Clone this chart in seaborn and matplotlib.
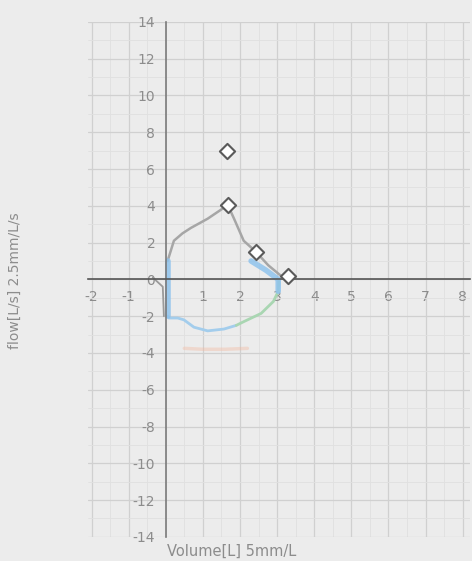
import numpy as np
import pandas as pd
import matplotlib
matplotlib.use("Agg")
import matplotlib.pyplot as plt
from matplotlib.ticker import MultipleLocator
import seaborn as sns

exp_vol = [0.05, 0.22, 0.45, 0.68, 1.13, 1.57, 1.67, 1.84, 2.1, 2.43, 2.76, 3.1, 3.3]
exp_flow = [1.0, 2.1, 2.5, 2.8, 3.3, 3.9, 4.05, 3.3, 2.1, 1.5, 0.77, 0.2, 0.1]

insp_blue_vol = [0.05, 0.08, 0.32, 0.49, 0.76, 1.13, 1.57, 1.9]
insp_blue_flow = [-2.0, -2.1, -2.1, -2.2, -2.6, -2.8, -2.7, -2.5]
insp_green_vol = [1.9, 2.1, 2.57, 2.9, 3.03, 3.05]
insp_green_flow = [-2.5, -2.3, -1.85, -1.2, -0.65, -0.1]

start_blue_vol = [0.05, 0.05]
start_blue_flow = [1.0, -2.0]
end_blue_vol = [2.3, 2.7, 3.03, 3.03]
end_blue_flow = [1.0, 0.5, 0.0, -0.65]
start_gray_vol = [-0.35, -0.08, -0.05]
start_gray_flow = [0.1, -0.4, -2.0]

pred_vol = [0.5, 1.0, 1.6, 2.2]
pred_flow = [-3.75, -3.8, -3.8, -3.75]

# Sollwert-Marker
soll_vol = [1.65, 1.67, 2.43, 3.3]
soll_flow = [7.0, 4.05, 1.5, 0.2]

x_ticks = [-2, -1, 1, 2, 3, 4, 5, 6, 7, 8]
y_ticks = list(range(-14, 15, 2))

bg = "#ececec"
txt = "#8c8c8c"

sns.set_theme(style="white")
plt.rcParams["font.family"] = ["DejaVu Sans"]

fig = plt.figure(figsize=(4.72, 5.61), dpi=100, facecolor=bg)
ax = fig.add_axes([0.186, 0.043, 0.81, 0.918])
ax.set_facecolor(bg)

def kurve(v, f, farbe, lw, alpha=1.0):
    d = pd.DataFrame({"v": v, "f": f})
    sns.lineplot(data=d, x="v", y="f", sort=False, estimator=None, color=farbe,
                 linewidth=lw, alpha=alpha, ax=ax)

kurve(pred_vol, pred_flow, "#f3b9a0", 2.5, 0.4)
kurve(start_gray_vol, start_gray_flow, "#9a9a9a", 1.3)
kurve(exp_vol, exp_flow, "#a6a6a6", 1.8)
kurve(insp_blue_vol, insp_blue_flow, "#a3cdec", 2.0)
kurve(insp_green_vol, insp_green_flow, "#a9d6b2", 2.0)
kurve(start_blue_vol, start_blue_flow, "#8fc3ec", 4.0, 0.85)
kurve(end_blue_vol, end_blue_flow, "#8fc3ec", 4.0, 0.85)

sns.scatterplot(x=soll_vol, y=soll_flow, marker="D", s=60, facecolor="white",
                edgecolor="#5a5a5a", linewidth=1.5, zorder=5, ax=ax)

ax.set_xlim(-2.1, 8.2)
ax.set_ylim(-14, 14)
ax.set_xticks(x_ticks)
ax.set_yticks(y_ticks)
ax.set_xticklabels([str(t) for t in x_ticks])
ax.set_yticklabels([str(t) for t in y_ticks])
ax.xaxis.set_minor_locator(MultipleLocator(0.5))
ax.yaxis.set_minor_locator(MultipleLocator(1))

ax.grid(which="major", color="#d0d0d0", linewidth=0.9)
ax.grid(which="minor", color="#e0e0e0", linewidth=0.6)
ax.set_axisbelow(True)

ax.spines["left"].set_position(("data", 0))
ax.spines["bottom"].set_position(("data", 0))
ax.spines["right"].set_visible(False)
ax.spines["top"].set_visible(False)
ax.spines["left"].set_color("#7a7a7a")
ax.spines["bottom"].set_color("#555555")
ax.spines["left"].set_linewidth(1.2)
ax.spines["bottom"].set_linewidth(1.2)

ax.tick_params(axis="both", which="major", colors=txt, labelsize=10,
               length=4, width=0.8, direction="out")
ax.tick_params(axis="both", which="minor", length=0)
ax.set_xlabel("")
ax.set_ylabel("")

fig.text(0.032, 0.5, "flow[L/s] 2.5mm/L/s", rotation=90, ha="center", va="center",
         color=txt, fontsize=10)
fig.text(0.49, 0.018, "Volume[L] 5mm/L", ha="center", va="center",
         color=txt, fontsize=10.5)

plt.savefig("out.png", dpi=100, facecolor=bg)
